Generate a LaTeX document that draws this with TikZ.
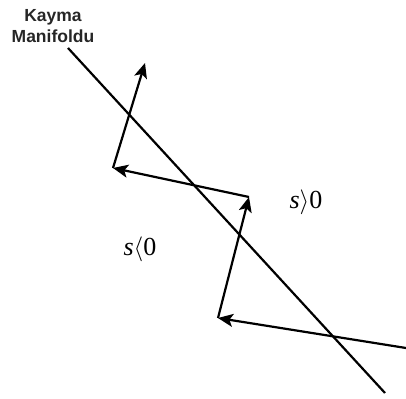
\documentclass[tikz,border=0pt]{standalone}
\usepackage{fontspec}
\setmainfont{Liberation Serif}
\newfontfamily\labelsans{Liberation Sans}
\usetikzlibrary{arrows.meta}
\begin{document}
\begin{tikzpicture}[x=1pt,y=1pt,
  ln/.style={line width=2.2pt},
  arr/.style={ln,-{Stealth[length=15pt,width=13pt,inset=3.5pt]}},
  region/.style={font=\fontsize{26}{30}\selectfont, inner sep=0pt}]
\useasboundingbox (0,0) rectangle (406,398);
\coordinate (m1) at (68,350);
\coordinate (m2) at (385,5);
\coordinate (r) at (406,50);
\coordinate (a) at (218,80);
\coordinate (b) at (249,201);
\coordinate (c) at (113,230);
\coordinate (d) at (145,335);
\draw[ln] (m1) -- (m2);
\draw[arr] (r) -- (a);
\draw[arr] (a) -- (b);
\draw[arr] (b) -- (c);
\draw[arr] (c) -- (d);
\node[font=\labelsans\bfseries\fontsize{17.5}{20.5}\selectfont, align=center, inner sep=0pt, text=black!85] (lbl) at (53,372) {Kayma\\Manifoldu};
\node[region] (pos) at (306,196) {\textit{s}$\rangle$0};
\node[region] (neg) at (140,149) {\textit{s}$\langle$0};
\end{tikzpicture}
\end{document}
